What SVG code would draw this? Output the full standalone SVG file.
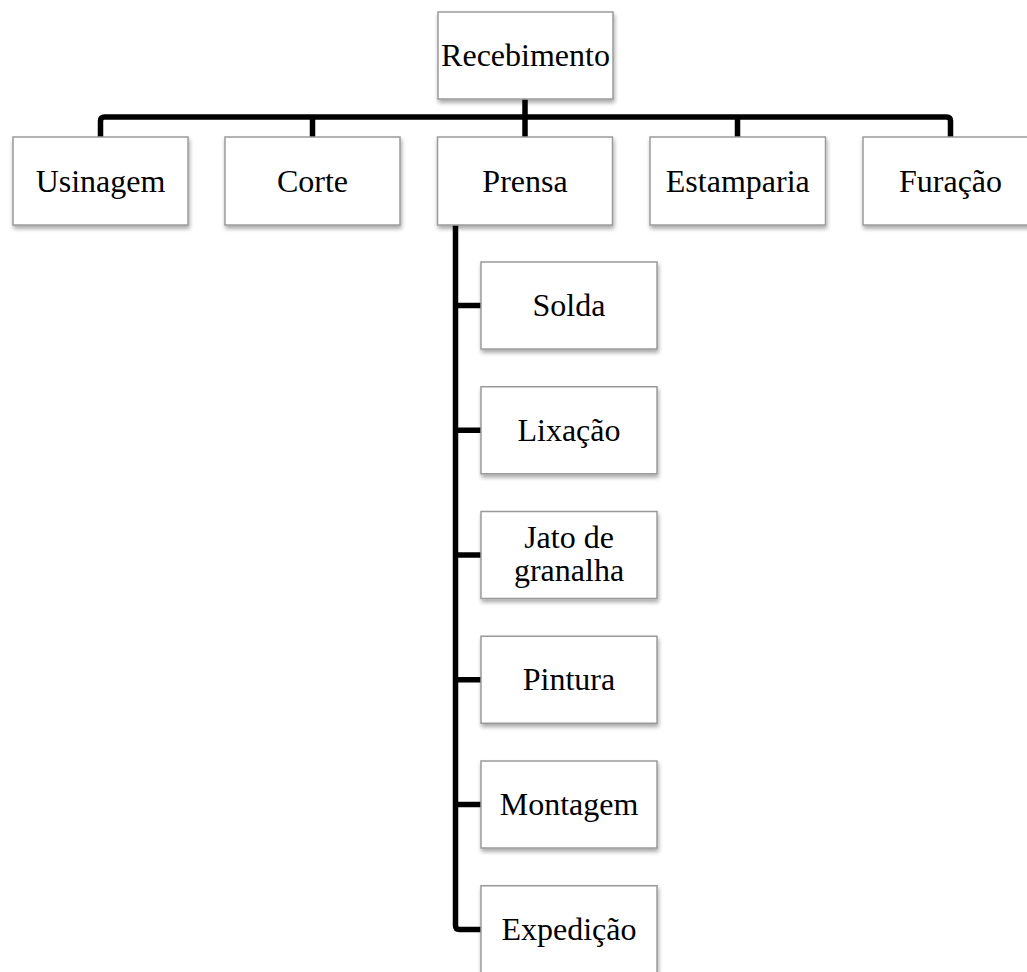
<svg xmlns="http://www.w3.org/2000/svg" width="1027" height="972" viewBox="0 0 1027 972">
<defs>
<filter id="sh" x="-10%" y="-10%" width="125%" height="130%">
<feGaussianBlur in="SourceAlpha" stdDeviation="2"/>
<feOffset dx="1" dy="3" result="b"/>
<feComponentTransfer><feFuncA type="linear" slope="0.35"/></feComponentTransfer>
<feMerge><feMergeNode/><feMergeNode in="SourceGraphic"/></feMerge>
</filter>
</defs>
<style>
.box{fill:#fff;stroke:#9a9a9a;stroke-width:1.5;filter:url(#sh)}
.t{font-family:"Liberation Serif","Times New Roman",serif;font-size:32px;fill:#000;text-anchor:middle}
.c{fill:none;stroke:#000;stroke-width:5.5;stroke-linejoin:round}
</style>
<rect width="1027" height="972" fill="#fff"/>
<g id="connectors">
<path class="c" d="M100.5 137 V121 Q100.5 117 104.5 117 H946.5 Q950.5 117 950.5 121 V137"/>
<path class="c" d="M525 99 V137"/>
<path class="c" d="M312.5 117 V137"/>
<path class="c" d="M737.5 117 V137"/>
<path class="c" d="M455.5 225 V925.5 Q455.5 929.5 459.5 929.5 H481"/>
<path class="c" d="M455.5 305.5 H481"/>
<path class="c" d="M455.5 430.25 H481"/>
<path class="c" d="M455.5 555 H481"/>
<path class="c" d="M455.5 679.75 H481"/>
<path class="c" d="M455.5 804.5 H481"/>
</g>
<g id="recebimento"><rect class="box" x="438" y="12" width="175" height="87"/><text class="t" x="525.5" y="66">Recebimento</text></g>
<g id="usinagem"><rect class="box" x="13" y="137" width="175" height="88"/><text class="t" x="100.5" y="191.5">Usinagem</text></g>
<g id="corte"><rect class="box" x="225" y="137" width="175" height="88"/><text class="t" x="312.5" y="191.5">Corte</text></g>
<g id="prensa"><rect class="box" x="437.5" y="137" width="175" height="88"/><text class="t" x="525" y="191.5">Prensa</text></g>
<g id="estamparia"><rect class="box" x="650" y="137" width="175.5" height="88"/><text class="t" x="737.75" y="191.5">Estamparia</text></g>
<g id="furacao"><rect class="box" x="863" y="137" width="175" height="88"/><text class="t" x="950.5" y="191.5">Furação</text></g>
<g id="solda"><rect class="box" x="481" y="262" width="176" height="87"/><text class="t" x="569" y="316">Solda</text></g>
<g id="lixacao"><rect class="box" x="481" y="386.75" width="176" height="87"/><text class="t" x="569" y="440.75">Lixação</text></g>
<g id="jato"><rect class="box" x="481" y="511.5" width="176" height="87"/><text class="t" x="569" y="548">Jato de</text><text class="t" x="569" y="580.5">granalha</text></g>
<g id="pintura"><rect class="box" x="481" y="636.25" width="176" height="87"/><text class="t" x="569" y="690.25">Pintura</text></g>
<g id="montagem"><rect class="box" x="481" y="761" width="176" height="87"/><text class="t" x="569" y="815">Montagem</text></g>
<g id="expedicao"><rect class="box" x="481" y="885.75" width="176" height="87"/><text class="t" x="569" y="939.75">Expedição</text></g>
</svg>
